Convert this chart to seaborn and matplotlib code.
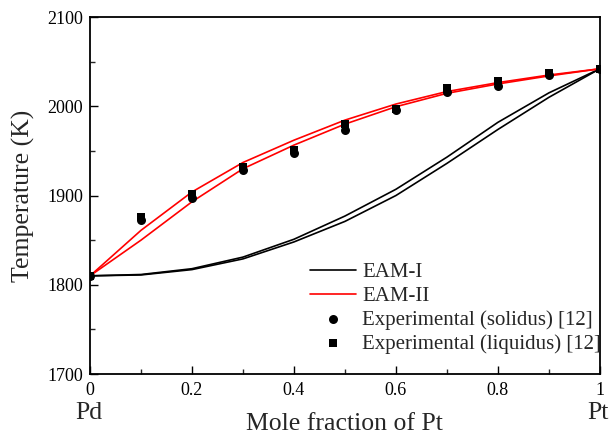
import matplotlib
matplotlib.use("Agg")
import matplotlib.pyplot as plt
import seaborn as sns
import pandas as pd
from matplotlib.ticker import MultipleLocator

# Composition (mole fraction of Pt)
x_frac = [0.0, 0.1, 0.2, 0.3, 0.4, 0.5, 0.6, 0.7, 0.8, 0.9, 1.0]

# EAM-I curves (K)
eam1_liquidus = [1810, 1811.5, 1818, 1831, 1851, 1877, 1907, 1943, 1982, 2015, 2042]
eam1_solidus = [1810, 1811, 1817, 1829, 1848, 1871, 1900, 1936, 1974, 2010, 2042]

# EAM-II curves (K)
eam2_liquidus = [1810, 1861, 1904, 1937, 1962, 1984.5, 2002.5, 2016.5, 2026.5, 2035, 2042]
eam2_solidus = [1810, 1850, 1893, 1930, 1956.5, 1980, 1999.5, 2014.5, 2025, 2034, 2042]

# Experimental [12]
exp_solidus = [1810, 1872.5, 1897, 1929, 1948, 1973, 1996, 2016, 2023, 2035, 2042]
exp_liquidus = [1810, 1876, 1901.5, 1932, 1951.5, 1980, 1997, 2020, 2028, 2037, 2042]

x_ticks = [0, 0.2, 0.4, 0.6, 0.8, 1]
x_ticklabels = ["0", "0.2", "0.4", "0.6", "0.8", "1"]
y_ticks = [1700, 1800, 1900, 2000, 2100]

sns.set_theme(style="ticks")
plt.rcParams['font.family'] = ['Liberation Serif', 'DejaVu Serif']

fig = plt.figure(figsize=(6.14, 4.34), dpi=100)
ax = fig.add_axes([0.1466, 0.1382, 0.8304, 0.8226])

df = pd.DataFrame({
    "x": x_frac,
    "e1l": eam1_liquidus, "e1s": eam1_solidus,
    "e2l": eam2_liquidus, "e2s": eam2_solidus,
    "es": exp_solidus, "el": exp_liquidus,
})

sns.lineplot(data=df, x="x", y="e1l", color="black", lw=1.2, ax=ax, label="EAM-I")
sns.lineplot(data=df, x="x", y="e1s", color="black", lw=1.2, ax=ax, label="_nolegend_")
sns.lineplot(data=df, x="x", y="e2l", color="#ff0000", lw=1.2, ax=ax, label="EAM-II")
sns.lineplot(data=df, x="x", y="e2s", color="#ff0000", lw=1.2, ax=ax, label="_nolegend_")
sns.scatterplot(data=df, x="x", y="es", marker="o", color="black", s=42,
                edgecolor="black", linewidth=0, ax=ax, label="Experimental (solidus) [12]", zorder=3)
sns.scatterplot(data=df, x="x", y="el", marker="s", color="black", s=36,
                edgecolor="black", linewidth=0, ax=ax, label="Experimental (liquidus) [12]", zorder=3)

ax.set_xlim(0, 1)
ax.set_ylim(1700, 2100)
ax.set_xticks(x_ticks)
ax.set_xticklabels(x_ticklabels)
ax.set_yticks(y_ticks)
ax.xaxis.set_minor_locator(MultipleLocator(0.1))
ax.yaxis.set_minor_locator(MultipleLocator(50))
ax.tick_params(which="major", direction="in", length=6, width=1, labelsize=13, colors="black", pad=5)
ax.tick_params(which="minor", direction="in", length=3.5, width=1)
ax.tick_params(axis="x", pad=6)
for s in ax.spines.values():
    s.set_linewidth(1.3)
    s.set_color("black")

ax.set_xlabel("")
ax.set_ylabel("Temperature (K)", fontsize=18.5, labelpad=9)

fig.text(0.145, 0.035, "Pd", ha="center", va="baseline", fontsize=18.5)
fig.text(0.974, 0.035, "Pt", ha="center", va="baseline", fontsize=18.5)
fig.text(0.561, 0.010, "Mole fraction of Pt", ha="center", va="baseline", fontsize=18.5)

leg = ax.legend(loc="lower right", bbox_to_anchor=(1.01, 0.045), frameon=False,
                fontsize=15, handlelength=2.2, handletextpad=0.3, labelspacing=0.2,
                borderaxespad=0.0, borderpad=0.2)

fig.savefig("out.png", dpi=100)
